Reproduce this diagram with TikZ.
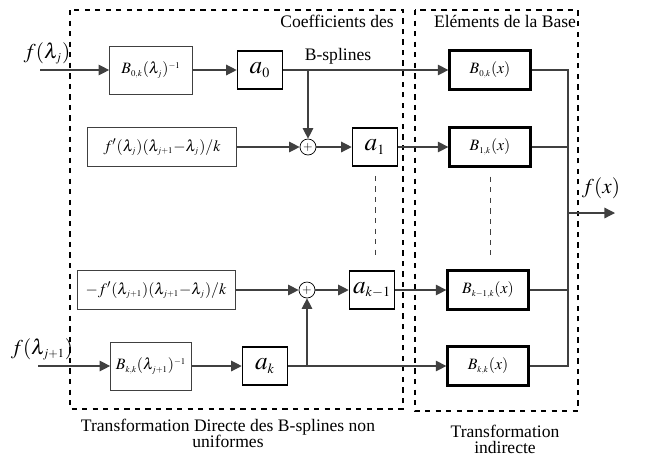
\documentclass[tikz,border=0pt]{standalone}
\usepackage{mathptmx}
\usepackage{fontspec}
\setmainfont{Liberation Serif}
\usetikzlibrary{arrows.meta,positioning}

\definecolor{wire}{gray}{0.25}
\newcommand{\ssub}[1]{{\scriptscriptstyle #1}}

\begin{document}
\begin{tikzpicture}
  [x=0.02cm,y=-0.02cm,
   line width=0.7pt,
   wire/.style={draw=wire},
   flow/.style={draw=wire,-{Triangle[length=6pt,width=6pt]}},
   inbox/.style={rectangle,draw=wire,thin,inner sep=0pt,font=\small},
   coef/.style={rectangle,draw=black,line width=0.9pt,inner sep=0pt,
                minimum width=0.9cm,minimum height=0.76cm,font=\Large},
   basis/.style={rectangle,draw=black,line width=1.3pt,inner sep=0pt,
                 minimum width=1.62cm,minimum height=0.78cm,font=\small},
   summer/.style={circle,draw=black,thin,inner sep=0pt,minimum size=0.32cm,
                  font=\scriptsize},
   group/.style={draw=black,dashed,line width=1pt},
   caption/.style={font=\normalsize,align=center}]
  \useasboundingbox (0,0) rectangle (645,461);

  % blocs en pointilles
  \draw[group] (70,10) rectangle (403,409);
  \draw[group] (415,10) rectangle (578,411);
  \node at (337,21) [caption] (coefTitle) {Coefficients des};
  \node at (338,56) [caption] (coefTitle2) {B-splines};
  \node at (505,21) [caption] (baseTitle) {Eléments de la Base};
  \node at (228,433) [caption] (directTitle)
    {Transformation Directe des B-splines non\\[-3pt] uniformes};
  \node at (505,439) [caption] (indirectTitle)
    {Transformation\\[-3pt] indirecte};

  % entrees
  \coordinate (in0) at (40,70);
  \coordinate (in1) at (38,366);
  \node at (47,53) [font=\large] (fj) {$f(\lambda_{\ssub{j}})$};
  \node at (42,349) [font=\large] (fj1) {$f(\lambda_{\ssub{j+1}})$};

  % premiere ligne
  \node at (151,70) [inbox,minimum width=1.66cm,minimum height=0.96cm] (inv0)
    {$B_{\ssub{0,k}}(\lambda_{\ssub{j}})^{\ssub{-1}}$};
  \node at (260,70) [coef] (a0) {$a_{\ssub{0}}$};
  \node at (490,70) [basis] (B0) {$B_{\ssub{0,k}}(x)$};

  % deuxieme ligne
  \node at (162,147) [inbox,minimum width=2.98cm,minimum height=0.78cm] (d1)
    {$f'(\lambda_{\ssub{j}})(\lambda_{\ssub{j+1}}{-}\lambda_{\ssub{j}})/k$};
  \node at (308,147) [summer] (s1) {$+$};
  \node at (375,147) [coef] (a1) {$a_{\ssub{1}}$};
  \node at (490,147) [basis] (B1) {$B_{\ssub{1,k}}(x)$};

  % troisieme ligne
  \node at (156,290) [inbox,minimum width=3.16cm,minimum height=0.78cm] (d2)
    {${-}f'(\lambda_{\ssub{j+1}})(\lambda_{\ssub{j+1}}{-}\lambda_{\ssub{j}})/k$};
  \node at (307,290) [summer] (s2) {$+$};
  \node at (372,290) [coef] (ak1) {$a_{\ssub{k-1}}$};
  \node at (488,290) [basis] (Bk1) {$B_{\ssub{k-1,k}}(x)$};

  % derniere ligne
  \node at (151,366) [inbox,minimum width=1.62cm,minimum height=0.96cm] (invk)
    {$B_{\ssub{k,k}}(\lambda_{\ssub{j+1}})^{\ssub{-1}}$};
  \node at (265,366) [coef] (ak) {$a_{\ssub{k}}$};
  \node at (488,366) [basis] (Bk) {$B_{\ssub{k,k}}(x)$};

  % connexions
  \draw[flow] (in0) -- (inv0);
  \draw[flow] (inv0) -- (a0);
  \draw[flow] (a0) -- (B0);
  \coordinate (j0) at (s1 |- a0);
  \draw[flow] (j0) -- (s1);
  \draw[flow] (d1) -- (s1);
  \draw[flow] (s1) -- (a1);
  \draw[flow] (a1) -- (B1);

  \draw[flow] (in1) -- (invk);
  \draw[flow] (invk) -- (ak);
  \draw[flow] (ak) -- (Bk);
  \coordinate (jk) at (s2 |- ak);
  \draw[flow] (jk) -- (s2);
  \draw[flow] (d2) -- (s2);
  \draw[flow] (s2) -- (ak1);
  \draw[flow] (ak1) -- (Bk1);

  % pointilles verticaux
  \draw[wire,thin,dashed] (a1.south) ++(0,9) coordinate (g1) -- (g1 |- 0,255);
  \draw[wire,thin,dashed] (B1.south) ++(0,9) coordinate (g2) -- (g2 |- 0,255);

  % sommation de sortie
  \coordinate (bus0) at (568,70);
  \coordinate (busk) at (568,366);
  \coordinate (busOut) at (568,213);
  \coordinate (out) at (615,213);
  \draw[wire] (B0) -- (bus0) -- (busk) -- (Bk);
  \draw[wire] (B1) -- (B1 -| bus0);
  \draw[wire] (Bk1) -- (Bk1 -| bus0);
  \draw[flow] (busOut) -- (out);
  \node at (601,188) [font=\large] (fx) {$f(x)$};
\end{tikzpicture}
\end{document}
